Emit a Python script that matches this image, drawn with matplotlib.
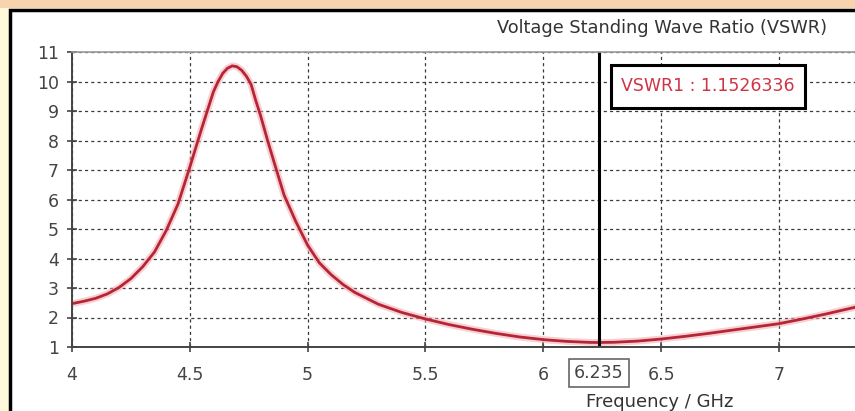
import matplotlib.pyplot as plt
from matplotlib.patches import Rectangle

# Frequency (GHz) and VSWR
freq = [4.00, 4.05, 4.10, 4.15, 4.20, 4.25, 4.30, 4.35, 4.40, 4.45,
        4.50, 4.55, 4.60, 4.62, 4.64, 4.66, 4.68, 4.70, 4.72, 4.74,
        4.76, 4.78, 4.80, 4.83, 4.86, 4.90, 4.95, 5.00, 5.05, 5.10,
        5.15, 5.20, 5.30, 5.40, 5.50, 5.60, 5.70, 5.80, 5.90, 6.00,
        6.10, 6.20, 6.235, 6.30, 6.40, 6.50, 6.60, 6.70, 6.80, 6.90,
        7.00, 7.10, 7.20, 7.33]
vswr = [2.47, 2.55, 2.65, 2.80, 3.02, 3.32, 3.72, 4.22, 4.95, 5.85,
        7.10, 8.40, 9.65, 10.00, 10.28, 10.45, 10.53, 10.50, 10.38, 10.18,
        9.90, 9.35, 8.85, 8.00, 7.20, 6.15, 5.25, 4.45, 3.85, 3.45,
        3.12, 2.85, 2.45, 2.17, 1.95, 1.76, 1.60, 1.46, 1.34, 1.25,
        1.19, 1.155, 1.1526, 1.16, 1.20, 1.27, 1.36, 1.46, 1.57, 1.68,
        1.79, 1.95, 2.12, 2.36]

marker_x = 6.235
marker_label = 'VSWR1 : 1.1526336'
x_ticks = [4, 4.5, 5, 5.5, 6, 6.5, 7]
x_tick_labels = ['4', '4.5', '5', '5.5', '6', '6.5', '7']
y_ticks = list(range(1, 12))

W, H = 855, 411
fig = plt.figure(figsize=(W / 100, H / 100), dpi=100)
fig.patch.set_facecolor('#FFF9DC')

# peach strip at the top + black frame with white panel
fig.patches.append(Rectangle((0, 1 - 8 / H), 1, 8 / H, transform=fig.transFigure,
                             facecolor='#F7D4AE', edgecolor='none', zorder=0))
fig.patches.append(Rectangle((10 / W, -0.1), 1.2, 1.1 - 10 / H, transform=fig.transFigure,
                             facecolor='white', edgecolor='black', linewidth=2.5, zorder=1))

ax_left, ax_bottom = 72 / W, 1 - 347 / H
ax_w, ax_h = 1 - 72 / W + 0.002, (347 - 52) / H
ax = fig.add_axes([ax_left, ax_bottom, ax_w, ax_h])
ax.set_facecolor('white')
ax.set_zorder(2)

ax.plot(freq, vswr, color='#F4A9AE', linewidth=5, alpha=0.55, solid_capstyle='round')
ax.plot(freq, vswr, color='#B52535', linewidth=2.0)

ax.set_xlim(4, 7.33)
ax.set_ylim(1, 11)
ax.set_xticks(x_ticks)
ax.set_xticklabels(x_tick_labels)
ax.set_yticks(y_ticks)
ax.grid(True, color='#3a3a3a', linestyle=(0, (2.5, 2.5)), linewidth=0.9)
ax.tick_params(direction='inout', length=7, width=1.2, color='#444444',
               labelsize=12.5, labelcolor='#444444')
ax.tick_params(axis='x', pad=10)
ax.tick_params(axis='y', pad=6)

for side in ['left', 'bottom']:
    ax.spines[side].set_color('#444444')
    ax.spines[side].set_linewidth(1.4)
ax.spines['top'].set_color('#9a9a9a')
ax.spines['top'].set_linewidth(1.2)
ax.spines['right'].set_visible(False)


def px_to_axes(px, py):
    """pixel position in the figure -> axes fraction"""
    return ((px / W - ax_left) / ax_w, ((1 - py / H) - ax_bottom) / ax_h)


# marker line
ax.axvline(marker_x, color='black', linewidth=2.2)

# marker readout box
x0, y0 = px_to_axes(611, 108)
x1, y1 = px_to_axes(805, 65)
ax.add_patch(Rectangle((x0, y0), x1 - x0, y1 - y0, transform=ax.transAxes,
                       facecolor='white', edgecolor='black', linewidth=2.2, zorder=5))
tx, ty = px_to_axes(708, 86)
ax.text(tx, ty, marker_label, transform=ax.transAxes, color='#D03444', fontsize=12.5,
        ha='center', va='center', zorder=6)

# marker value on the x axis
_, ly = px_to_axes(0, 373)
ax.text(marker_x, ly, '6.235', transform=ax.get_xaxis_transform(),
        color='#444444', fontsize=12.5, ha='center', va='center', clip_on=False,
        bbox=dict(boxstyle='square,pad=0.3', facecolor='white', edgecolor='#666666', linewidth=1.2))

fig.text(662 / W, 1 - 28 / H, 'Voltage Standing Wave Ratio (VSWR)', ha='center', va='center',
         fontsize=12.8, color='#333333')
fig.text(660 / W, 1 - 402 / H, 'Frequency / GHz', ha='center', va='center',
         fontsize=13, color='#333333')

fig.savefig('out.png', dpi=100)
